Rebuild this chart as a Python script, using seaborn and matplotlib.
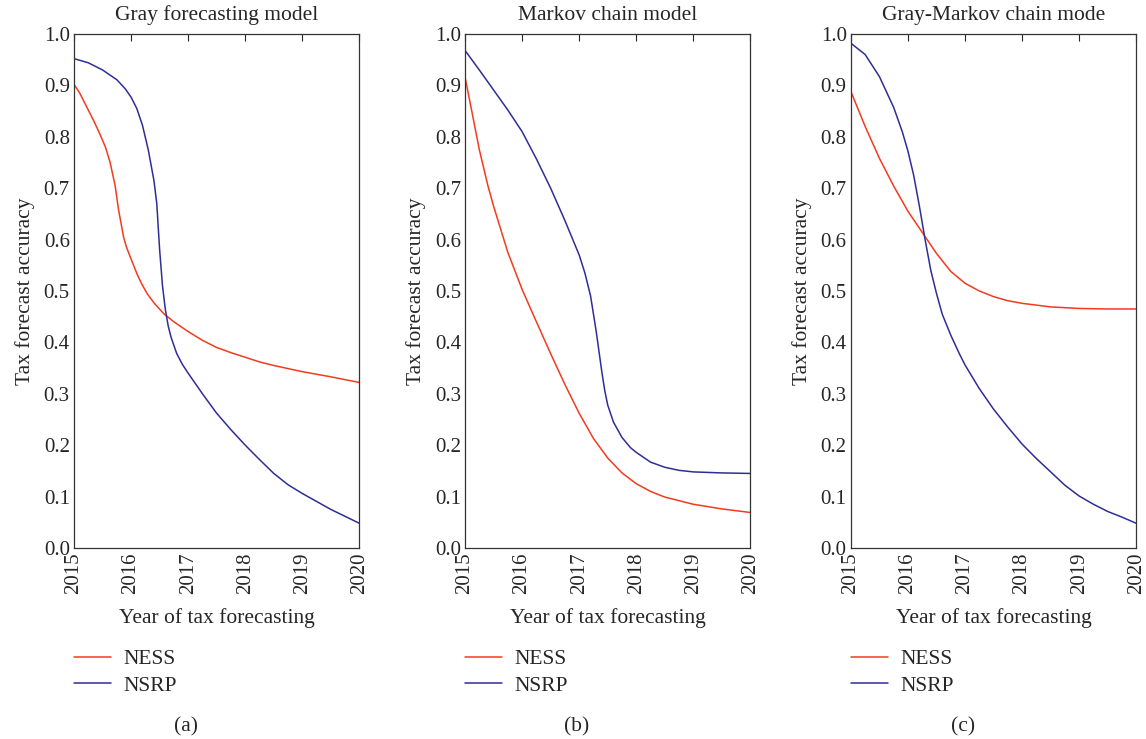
import matplotlib

matplotlib.use("Agg")
import matplotlib.pyplot as plt
import pandas as pd
import seaborn as sns

# values (year, accuracy)
gray_ness_x = [2015, 2015.1, 2015.25, 2015.35, 2015.45, 2015.55, 2015.63, 2015.72, 2015.78, 2015.87,
               2015.92, 2016, 2016.1, 2016.18, 2016.28, 2016.4, 2016.57, 2016.75, 2017, 2017.25,
               2017.5, 2017.75, 2018, 2018.25, 2018.5, 2019, 2019.5, 2020]
gray_ness_y = [0.902, 0.885, 0.852, 0.830, 0.806, 0.780, 0.751, 0.705, 0.658, 0.604,
               0.585, 0.562, 0.534, 0.515, 0.495, 0.477, 0.456, 0.440, 0.421, 0.404,
               0.390, 0.380, 0.371, 0.362, 0.355, 0.343, 0.333, 0.322]
gray_nsrp_x = [2015, 2015.25, 2015.5, 2015.75, 2015.9, 2016, 2016.1, 2016.2, 2016.3, 2016.4,
               2016.45, 2016.5, 2016.55, 2016.6, 2016.65, 2016.7, 2016.8, 2016.9, 2017, 2017.25,
               2017.5, 2017.75, 2018, 2018.25, 2018.5, 2018.75, 2019, 2019.5, 2020]
gray_nsrp_y = [0.952, 0.944, 0.930, 0.911, 0.893, 0.877, 0.855, 0.822, 0.775, 0.715,
               0.670, 0.580, 0.510, 0.464, 0.432, 0.410, 0.378, 0.357, 0.340, 0.300,
               0.262, 0.230, 0.200, 0.172, 0.145, 0.123, 0.106, 0.075, 0.048]

markov_ness_x = [2015, 2015.1, 2015.25, 2015.4, 2015.5, 2015.75, 2016, 2016.25, 2016.5, 2016.75,
                 2017, 2017.25, 2017.5, 2017.75, 2018, 2018.25, 2018.5, 2019, 2019.5, 2020]
markov_ness_y = [0.916, 0.860, 0.775, 0.705, 0.665, 0.575, 0.503, 0.440, 0.378, 0.318,
                 0.262, 0.213, 0.175, 0.146, 0.125, 0.110, 0.099, 0.085, 0.076, 0.069]
markov_nsrp_x = [2015, 2015.25, 2015.5, 2015.75, 2016, 2016.25, 2016.5, 2016.75, 2017, 2017.1,
                 2017.2, 2017.25, 2017.3, 2017.35, 2017.4, 2017.45, 2017.5, 2017.6, 2017.75, 2017.9,
                 2018, 2018.25, 2018.5, 2018.75, 2019, 2019.5, 2020]
markov_nsrp_y = [0.968, 0.930, 0.891, 0.852, 0.810, 0.757, 0.700, 0.637, 0.570, 0.535,
                 0.490, 0.455, 0.420, 0.380, 0.340, 0.305, 0.278, 0.245, 0.215, 0.195,
                 0.186, 0.167, 0.157, 0.151, 0.148, 0.146, 0.145]

gm_ness_x = [2015, 2015.25, 2015.5, 2015.75, 2016, 2016.25, 2016.5, 2016.75, 2017, 2017.25,
             2017.5, 2017.75, 2018, 2018.5, 2019, 2019.5, 2020]
gm_ness_y = [0.888, 0.820, 0.758, 0.704, 0.655, 0.614, 0.573, 0.538, 0.515, 0.500,
             0.489, 0.481, 0.476, 0.469, 0.466, 0.465, 0.465]
gm_nsrp_x = [2015, 2015.25, 2015.5, 2015.75, 2015.9, 2016, 2016.1, 2016.2, 2016.3, 2016.4,
             2016.5, 2016.6, 2016.75, 2016.9, 2017, 2017.25, 2017.5, 2017.75, 2018, 2018.25,
             2018.5, 2018.75, 2019, 2019.25, 2019.5, 2019.75, 2020]
gm_nsrp_y = [0.982, 0.960, 0.917, 0.857, 0.810, 0.772, 0.725, 0.665, 0.600, 0.540,
             0.495, 0.455, 0.414, 0.378, 0.356, 0.310, 0.270, 0.235, 0.202, 0.174,
             0.148, 0.122, 0.101, 0.085, 0.071, 0.060, 0.048]

titles = ["Gray forecasting model", "Markov chain model", "Gray-Markov chain mode"]
captions = ["(a)", "(b)", "(c)"]
series = ["NESS", "NSRP"]
years = [2015, 2016, 2017, 2018, 2019, 2020]
yticks = [0.0, 0.1, 0.2, 0.3, 0.4, 0.5, 0.6, 0.7, 0.8, 0.9, 1.0]

panels = [
    ((gray_ness_x, gray_ness_y), (gray_nsrp_x, gray_nsrp_y)),
    ((markov_ness_x, markov_ness_y), (markov_nsrp_x, markov_nsrp_y)),
    ((gm_ness_x, gm_ness_y), (gm_nsrp_x, gm_nsrp_y)),
]

sns.set_style("white")
plt.rcParams["font.family"] = ["Liberation Serif", "DejaVu Serif"]
palette = {"NESS": "#f23b1f", "NSRP": "#2e2e96"}

fig = plt.figure(figsize=(11.46, 7.39), dpi=100)
lefts = [0.0646, 0.4058, 0.7425]

for i, (left, curves) in enumerate(zip(lefts, panels)):
    ax = fig.add_axes([left, 0.2585, 0.2490, 0.6955])
    frames = []
    for name, (xs, ys) in zip(series, curves):
        frames.append(pd.DataFrame({"year": xs, "acc": ys, "series": name}))
    df = pd.concat(frames, ignore_index=True)
    sns.lineplot(data=df, x="year", y="acc", hue="series", palette=palette,
                 linewidth=1.1, ax=ax, sort=True, estimator=None)
    ax.set_xlim(2015, 2020)
    ax.set_ylim(0, 1.0)
    ax.set_xticks(years)
    ax.set_xticklabels([str(y) for y in years], rotation=90, fontsize=15)
    ax.set_yticks(yticks)
    ax.set_yticklabels([f"{v:.1f}" for v in yticks], fontsize=15)
    ax.tick_params(direction="in", top=True, right=False, length=5, width=0.8, pad=3)
    for sp in ax.spines.values():
        sp.set_color("#333333")
        sp.set_linewidth(0.9)
    ax.set_title(titles[i], fontsize=15.5, pad=10)
    ax.set_xlabel("Year of tax forecasting", fontsize=15.5, labelpad=10)
    ax.set_ylabel("Tax forecast accuracy", fontsize=15.5, labelpad=6)
    handles, labels = ax.get_legend_handles_labels()
    ax.legend(handles, labels, loc="upper left", bbox_to_anchor=(0.0, -0.197),
              frameon=False, fontsize=15.5, borderaxespad=0, borderpad=0,
              handlelength=1.7, handletextpad=0.6, labelspacing=0.3)
    fig.text(left + 0.1246 - 0.027, 0.01, captions[i], fontsize=15.5, ha="center")

fig.savefig("out.png", dpi=100)
